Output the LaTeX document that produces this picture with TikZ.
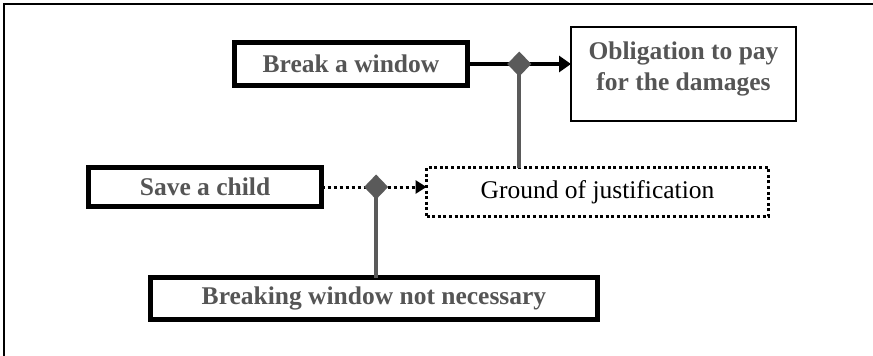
\documentclass[tikz,border=0pt]{standalone}
\usepackage{fontspec}
\setmainfont{Liberation Serif}
\usetikzlibrary{shapes.geometric,arrows.meta}
\definecolor{txtgray}{HTML}{555555}
\definecolor{lnkgray}{HTML}{5A5A5A}
\begin{document}
\begin{tikzpicture}[x=1pt,y=-1pt,
  every node/.style={inner sep=0pt,outer sep=0pt},
  heavybox/.style={draw=black,line width=5pt,rectangle,
    font=\fontsize{25.5}{31}\selectfont\bfseries,text=txtgray},
  thinbox/.style={draw=black,line width=2pt,rectangle},
  dotbox/.style={draw=black,line width=3pt,dash pattern=on 3pt off 2.6pt,rectangle,
    font=\fontsize{25.5}{31}\selectfont,text=black},
  junction/.style={diamond,fill=lnkgray,minimum width=24pt,minimum height=25pt},
  solidlink/.style={line width=4pt,-{Triangle[length=12pt,width=16pt]}},
  dotlink/.style={line width=3pt,dash pattern=on 3pt off 3pt,-{Triangle[length=11pt,width=13pt]}},
  grayline/.style={draw=lnkgray,line width=4pt}]
\useasboundingbox (0,0) rectangle (873,356);
% frame
\draw[line width=1.6pt] (4,356) -- (4,4) -- (873,4);

% boxes
\node[heavybox,minimum width=233pt,minimum height=43pt] (brk) at (351,64) {Break a window};
\node[thinbox,minimum width=225pt,minimum height=94pt,
  label={[font=\fontsize{25.5}{31}\selectfont\bfseries,text=txtgray,align=center,yshift=5pt]center:Obligation to pay\\for the damages}]
  (obl) at (683.5,74) {};
\node[heavybox,minimum width=233pt,minimum height=39pt] (save) at (205,187) {Save a child};
\node[dotbox,minimum width=342pt,minimum height=49pt] (gnd) at (597.5,192) {Ground of justification};
\node[heavybox,minimum width=447pt,minimum height=42pt] (nec) at (374,298.5) {Breaking window not necessary};

% connectors
\draw[solidlink] (brk.east) -- (brk.east -| obl.west);
\draw[dotlink] (save.east) -- (save.east -| gnd.west);
\path (brk.east) -- (brk.east -| obl.west) coordinate[pos=0.5] (j1);
\path (save.east) -- (save.east -| gnd.west) coordinate[pos=0.52] (j2);
\draw[grayline] (j1) -- (j1 |- gnd.north);
\draw[grayline] (j2) -- (j2 |- nec.north);
\node[junction] (d1) at (j1) {};
\node[junction] (d2) at (j2) {};
\end{tikzpicture}
\end{document}
